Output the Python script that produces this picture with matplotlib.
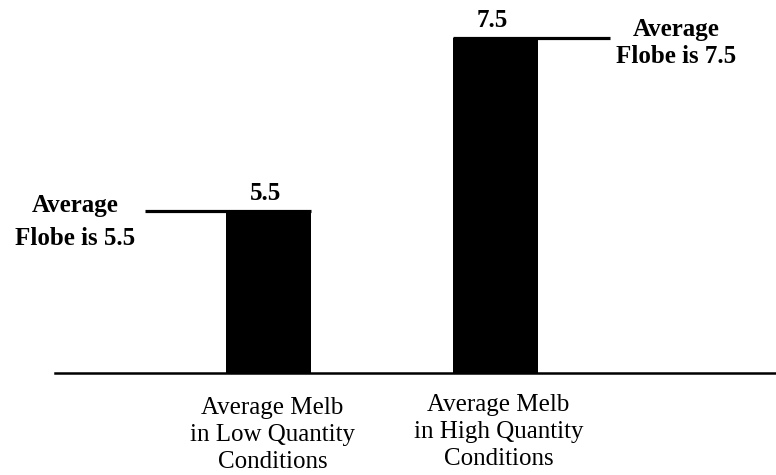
import matplotlib.pyplot as plt

# data
categories = ["Average Melb\nin Low Quantity\nConditions",
              "Average Melb\nin High Quantity\nConditions"]
melb = [5.5, 7.5]
flobe = [5.5, 7.5]
flobe_labels = ["Average\nFlobe is 5.5", "Average\nFlobe is 7.5"]

plt.rcParams['font.family'] = ['Liberation Serif', 'DejaVu Serif']

PX = 0.72  # points per pixel at dpi 100

fig = plt.figure(figsize=(7.76, 4.75), dpi=100)
ax = fig.add_axes([0.0709, 0.2147, 0.9291, 0.7853])

x = [0, 1]
ax.bar(x, melb, width=0.374, color='black', bottom=0)
ax.set_ylim(3.627, 7.94)
ax.set_xlim(-0.9405, 2.2357)

# average flobe reference lines
ax.hlines(flobe[0], -0.544, 0.187, color='black', lw=2.3)
ax.hlines(flobe[1], 1 - 0.187, 1.504, color='black', lw=2.3)

# value labels on bars
for xi, v in zip(x, melb):
    ax.annotate(f"{v}", (xi, v), xytext=(-3 * PX, 11 * PX), textcoords='offset points',
                ha='center', va='baseline', fontsize=18, fontweight='bold')

# flobe labels
ax.annotate(flobe_labels[0], (-0.544, flobe[0]), xytext=(-70 * PX, -34 * PX),
            textcoords='offset points', ha='center', va='baseline',
            fontsize=18, fontweight='bold', linespacing=1.55)
ax.annotate(flobe_labels[1], (1.504, flobe[1]), xytext=(66 * PX, -25 * PX),
            textcoords='offset points', ha='center', va='baseline',
            fontsize=18, fontweight='bold', linespacing=1.25)

# category labels below baseline
offsets = [(4, -95), (3, -92)]
for xi, lab, (dx, dy) in zip(x, categories, offsets):
    ax.annotate(lab, (xi, 0), xycoords=('data', 'axes fraction'),
                xytext=(dx * PX, dy * PX), textcoords='offset points',
                ha='center', va='baseline', fontsize=18, linespacing=1.3)

for s in ['top', 'right', 'left']:
    ax.spines[s].set_visible(False)
ax.spines['bottom'].set_linewidth(1.8)
ax.set_xticks([])
ax.set_yticks([])

fig.savefig('out.png', dpi=100)
